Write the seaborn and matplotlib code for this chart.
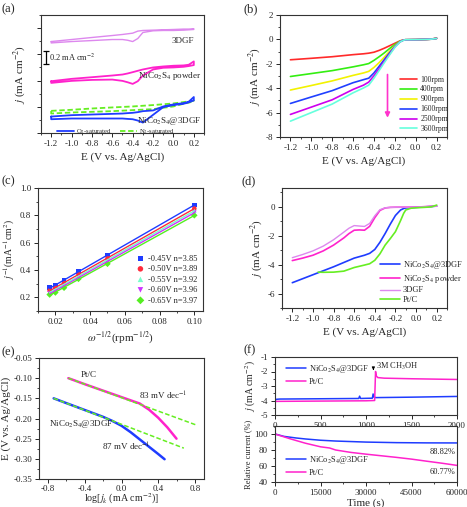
import numpy as np
import pandas as pd
import matplotlib
matplotlib.use("Agg")
import matplotlib.pyplot as plt
from matplotlib.ticker import AutoMinorLocator
import seaborn as sns

sns.set_style("ticks")
plt.rcParams["font.family"] = ["Liberation Serif", "DejaVu Serif"]
plt.rcParams["mathtext.fontset"] = "stix"
plt.rcParams["axes.unicode_minus"] = False
plt.rcParams["axes.linewidth"] = 0.8
plt.rcParams["axes.edgecolor"] = "#333333"

# ---------------- (a) CV curves (offset, arbitrary origin, mA cm-2) ----------------
E_cv = [-1.2, -1.0, -0.8, -0.6, -0.5, -0.45, -0.4, -0.35, -0.3, -0.2, -0.1, 0.0, 0.1, 0.15, 0.2]
dgf_up = [1.395, 1.426, 1.457, 1.487, 1.503, 1.513, 1.523, 1.554, 1.564, 1.569, 1.574, 1.579, 1.585, 1.585, 1.590]
dgf_dn = [1.374, 1.395, 1.410, 1.426, 1.426, 1.415, 1.395, 1.441, 1.533, 1.559, 1.564, 1.564, 1.569, 1.574, 1.579]
pow_up = [0.790, 0.826, 0.851, 0.877, 0.892, 0.908, 0.928, 0.949, 0.969, 1.000, 1.015, 1.026, 1.031, 1.041, 1.092]
pow_dn = [0.764, 0.795, 0.810, 0.815, 0.795, 0.774, 0.749, 0.790, 0.877, 0.969, 0.995, 1.000, 1.010, 1.021, 1.036]
o2_up = [0.251, 0.272, 0.282, 0.292, 0.297, 0.303, 0.308, 0.318, 0.333, 0.344, 0.405, 0.436, 0.456, 0.477, 0.549]
o2_dn = [0.210, 0.221, 0.221, 0.221, 0.221, 0.215, 0.210, 0.190, 0.159, 0.277, 0.395, 0.426, 0.446, 0.467, 0.497]
E_n2 = [-1.2, -1.0, -0.8, -0.6, -0.4, -0.2, 0.0, 0.1, 0.2]
n2_up = [0.338, 0.354, 0.374, 0.390, 0.405, 0.426, 0.451, 0.472, 0.492]
n2_dn = [0.297, 0.313, 0.323, 0.333, 0.349, 0.364, 0.405, 0.446, 0.482]
scale_bar_E = -1.25
scale_bar_j = [1.046, 1.251]

# ---------------- (b) LSV at different rotation rates ----------------
E_b = [-1.2, -1.0, -0.8, -0.6, -0.5, -0.45, -0.4, -0.35, -0.3, -0.25, -0.2, -0.15, -0.12, -0.1, 0.0, 0.1, 0.15, 0.2]
rpm_labels = ["100rpm", "400rpm", "900rpm", "1600rpm", "2500rpm", "3600rpm"]
rpm_colors = ["#ff2a2a", "#33ee11", "#f2f200", "#2040ff", "#cc00ee", "#66ffdd"]
j_100 = [-1.67, -1.55, -1.42, -1.25, -1.18, -1.13, -1.05, -0.90, -0.72, -0.52, -0.32, -0.12, -0.05, -0.03, -0.02, 0.0, 0.02, 0.12]
j_400 = [-3.04, -2.80, -2.56, -2.25, -2.08, -1.98, -1.72, -1.42, -1.10, -0.75, -0.42, -0.15, -0.06, -0.03, -0.02, 0.0, 0.02, 0.08]
j_900 = [-4.15, -3.78, -3.40, -2.95, -2.75, -2.62, -2.30, -1.90, -1.45, -0.98, -0.52, -0.17, -0.06, -0.03, -0.02, 0.0, 0.02, 0.08]
j_1600 = [-5.25, -4.72, -4.20, -3.55, -3.30, -3.18, -2.75, -2.20, -1.65, -1.10, -0.58, -0.19, -0.07, -0.03, -0.02, 0.0, 0.02, 0.08]
j_2500 = [-6.15, -5.55, -4.95, -4.10, -3.75, -3.50, -2.98, -2.40, -1.80, -1.20, -0.62, -0.20, -0.07, -0.03, -0.02, 0.0, 0.02, 0.08]
j_3600 = [-6.70, -6.00, -5.30, -4.38, -3.98, -3.75, -3.18, -2.55, -1.90, -1.27, -0.65, -0.21, -0.08, -0.03, -0.02, 0.0, 0.02, 0.08]

# ---------------- (c) K-L plots ----------------
omega = [0.0167, 0.02, 0.025, 0.0333, 0.05, 0.1]
kl_labels = ["-0.45V n=3.85", "-0.50V n=3.89", "-0.55V n=3.92", "-0.60V n=3.96", "-0.65V n=3.97"]
kl_colors = ["#1f3cff", "#ff2a3a", "#77ffcc", "#cc33ff", "#55ee22"]
kl_markers = ["s", "o", "^", "v", "D"]
kl_045 = [0.270, 0.285, 0.325, 0.390, 0.510, 0.875]
kl_050 = [0.250, 0.270, 0.305, 0.370, 0.485, 0.850]
kl_055 = [0.240, 0.260, 0.290, 0.355, 0.470, 0.835]
kl_060 = [0.230, 0.250, 0.280, 0.345, 0.460, 0.820]
kl_065 = [0.220, 0.235, 0.270, 0.335, 0.445, 0.800]

# ---------------- (d) LSV comparison ----------------
E_d = [-1.2, -1.0, -0.8, -0.6, -0.5, -0.45, -0.4, -0.35, -0.3, -0.25, -0.2, -0.15, -0.12, -0.1, 0.0, 0.1, 0.15, 0.2]
j_d_hybrid = [-5.25, -4.70, -4.15, -3.55, -3.35, -3.22, -2.95, -2.45, -1.85, -1.20, -0.60, -0.22, -0.12, -0.08, -0.04, 0.0, 0.02, 0.05]
E_d2 = [-1.2, -1.1, -1.0, -0.9, -0.8, -0.7, -0.65, -0.6, -0.55, -0.5, -0.45, -0.4, -0.35, -0.3, -0.25, -0.2, 0.0, 0.2]
j_d_powder = [-3.72, -3.55, -3.35, -3.05, -2.65, -2.15, -1.85, -1.62, -1.60, -1.62, -1.35, -0.75, -0.25, -0.08, -0.04, -0.03, -0.02, 0.05]
j_d_dgf = [-3.52, -3.30, -3.05, -2.72, -2.28, -1.75, -1.48, -1.30, -1.33, -1.36, -1.15, -0.62, -0.20, -0.07, -0.04, -0.03, -0.02, 0.05]
E_ptc = [-0.95, -0.9, -0.8, -0.7, -0.6, -0.5, -0.45, -0.4, -0.35, -0.3, -0.25, -0.2, -0.15, -0.12, -0.1, -0.05, 0.0, 0.1, 0.15, 0.2]
j_d_ptc = [-4.52, -4.53, -4.52, -4.45, -4.20, -4.03, -3.94, -3.70, -3.25, -2.65, -2.20, -1.72, -0.95, -0.45, -0.22, -0.10, -0.07, -0.03, 0.0, 0.12]

# ---------------- (e) Tafel plots ----------------
logj_pt = [-0.58, -0.4, -0.2, 0.0, 0.1, 0.2, 0.3, 0.4, 0.5, 0.6]
E_pt = [-0.100, -0.115, -0.131, -0.147, -0.155, -0.163, -0.178, -0.198, -0.222, -0.250]
fit_pt_x = [-0.58, 0.82]
fit_pt_y = [-0.100, -0.2165]
logj_hy = [-0.74, -0.6, -0.4, -0.2, -0.1, 0.0, 0.1, 0.2, 0.3, 0.4, 0.47]
E_hy = [-0.150, -0.162, -0.179, -0.196, -0.206, -0.218, -0.234, -0.252, -0.270, -0.288, -0.301]
fit_hy_x = [-0.74, 0.68]
fit_hy_y = [-0.150, -0.2735]

# ---------------- (f) methanol tolerance / durability ----------------
t_hy = [0, 3, 10, 50, 500, 920, 930, 940, 1000, 1070, 1078, 1090, 1110, 1500, 2000]
jt_hy = [-4.5, -4.0, -3.92, -3.90, -3.88, -3.86, -3.70, -3.86, -3.85, -3.84, -3.55, -3.78, -3.80, -3.77, -3.72]
t_pt = [0, 3, 10, 500, 1000, 1095, 1100, 1105, 1112, 1130, 1200, 1500, 2000]
jt_pt = [-4.3, -4.1, -4.06, -4.04, -4.02, -4.0, -3.0, -2.0, -2.3, -2.42, -2.46, -2.5, -2.55]
t_long = [0, 3000, 7000, 10000, 15000, 20000, 30000, 40000, 50000, 60000]
rel_hy = [100, 97.0, 95.0, 93.8, 92.2, 91.2, 89.9, 89.2, 88.9, 88.82]
t_long_pt = [0, 5000, 10000, 15000, 18000, 20000, 25000, 30000, 40000, 45000, 50000, 55000, 60000]
rel_pt = [100, 94.0, 88.5, 84.0, 82.5, 80.0, 77.0, 74.8, 70.8, 68.6, 66.0, 63.5, 60.77]

BLUE = "#1f3cff"
MAG = "#ff22cc"
VIOLET = "#dd88ee"
GREEN = "#66ee22"
HY = r"NiCo$_2$S$_4$@3DGF"
POW = r"NiCo$_2$S$_4$ powder"
TICK_FS = 6.5
LAB_FS = 8


def line(ax, x, y, color, lw=1.3, ls="-", label=None):
    sns.lineplot(x=x, y=y, ax=ax, color=color, lw=lw, ls=ls, sort=False,
                 estimator=None, label=label, legend=False)
    return ax.lines[-1]


def style(ax, minor=True):
    ax.tick_params(which="major", direction="out", length=3, width=0.7,
                   labelsize=TICK_FS, pad=2, top=False, right=False)
    ax.tick_params(which="minor", direction="out", length=1.6, width=0.6,
                   top=False, right=False)
    if minor:
        ax.xaxis.set_minor_locator(AutoMinorLocator(2))
        ax.yaxis.set_minor_locator(AutoMinorLocator(2))
    for s in ax.spines.values():
        s.set_visible(True)


def loop(E, up, dn):
    return list(E) + list(E[::-1]) + [E[0]], list(up) + list(dn[::-1]) + [up[0]]


W, H = 467, 507
fig = plt.figure(figsize=(W / 100, H / 100), dpi=100)


def add_ax(l, r, t, b):
    return fig.add_axes([l / W, 1 - b / H, (r - l) / W, (b - t) / H])


E_label = "E (V vs. Ag/AgCl)"
j_label = r"$j$ (mA cm$^{-2}$)"
E_ticks = ["-1.2", "-1.0", "-0.8", "-0.6", "-0.4", "-0.2", "0.0", "0.2"]

# (a)
ax = add_ax(41, 204, 15, 133)
x, y = loop(E_cv, dgf_up, dgf_dn)
line(ax, x, y, VIOLET, lw=1.0)
x, y = loop(E_cv, pow_up, pow_dn)
line(ax, x, y, MAG, lw=1.3)
x, y = loop(E_n2, n2_up, n2_dn)
h_n2 = line(ax, x, y, GREEN, lw=1.3, ls=(0, (3, 1.5)), label=r"N$_2$-saturated")
x, y = loop(E_cv, o2_up, o2_dn)
h_o2 = line(ax, x, y, BLUE, lw=1.3, label=r"O$_2$-saturated")
ax.plot([scale_bar_E, scale_bar_E], scale_bar_j, color="k", lw=0.9, marker="_", ms=4, mew=0.9)
ax.text(-1.22, 1.15, r"0.2 mA cm$^{-2}$", fontsize=6, va="center")
ax.text(0.2, 1.405, "3DGF", fontsize=6.5, ha="right", va="center")
ax.text(0.27, 0.877, POW, fontsize=6.5, ha="right", va="center")
ax.text(0.27, 0.19, HY, fontsize=6.5, ha="right", va="center")
ax.legend(handles=[h_o2, h_n2], loc="lower left", bbox_to_anchor=(0.06, -0.075), ncol=2,
          frameon=False, fontsize=4.8, handlelength=2.6, columnspacing=1.2, handletextpad=0.3)
ax.set_xlim(-1.3, 0.3)
ax.set_ylim(0, 1.8)
ax.set_xticks(np.arange(-1.2, 0.21, 0.2))
ax.set_xticklabels(E_ticks)
ax.set_yticks(np.arange(0.0, 1.81, 0.4))
style(ax)
ax.tick_params(labelleft=False)
ax.set_xlabel(E_label, fontsize=LAB_FS, labelpad=3)
ax.set_ylabel(j_label, fontsize=LAB_FS, labelpad=4)

# (b)
ax = add_ax(280, 447, 15, 137)
handles = []
for lab, col, jj in zip(rpm_labels, rpm_colors, [j_100, j_400, j_900, j_1600, j_2500, j_3600]):
    handles.append(line(ax, E_b, jj, col, lw=1.2, label=lab))
ax.annotate("", xy=(-0.27, -6.65), xytext=(-0.27, -2.65),
            arrowprops=dict(arrowstyle="-|>", color="#ff33cc", lw=1.2, mutation_scale=7))
ax.legend(handles=handles, loc="upper left", bbox_to_anchor=(0.68, 0.56), frameon=False,
          fontsize=5.5, handlelength=2.2, labelspacing=0.25, handletextpad=0.4)
ax.set_xlim(-1.3, 0.3)
ax.set_ylim(-8, 2)
ax.set_xticks(np.arange(-1.2, 0.21, 0.2))
ax.set_xticklabels(E_ticks)
ax.set_yticks([-8, -6, -4, -2, 0, 2])
style(ax)
ax.set_xlabel(E_label, fontsize=LAB_FS, labelpad=3)
ax.set_ylabel(j_label, fontsize=LAB_FS, labelpad=2)

# (c)
ax = add_ax(38, 203, 188, 311)
handles = []
for lab, col, mk, vals in zip(kl_labels, kl_colors, kl_markers, [kl_045, kl_050, kl_055, kl_060, kl_065]):
    sns.regplot(x=omega, y=vals, ax=ax, ci=None, scatter=False, truncate=True,
                color=col, line_kws=dict(lw=1.0))
    sns.scatterplot(x=omega, y=vals, ax=ax, color=col, marker=mk, s=11,
                    edgecolor="none", label=lab, legend=False)
    handles.append(ax.collections[-1])
ax.legend(handles=handles, loc="upper left", bbox_to_anchor=(0.55, 0.52), frameon=False,
          fontsize=6, handlelength=1.0, labelspacing=0.3, handletextpad=0.4, markerscale=1.2)
ax.set_xlim(0.01, 0.105)
ax.set_ylim(0.1, 1.0)
ax.set_xticks([0.02, 0.04, 0.06, 0.08, 0.10])
ax.set_xticklabels(["0.02", "0.04", "0.06", "0.08", "0.10"])
ax.set_yticks([0.2, 0.4, 0.6, 0.8, 1.0])
style(ax)
ax.set_xlabel(r"$\omega^{-1/2}$(rpm$^{-1/2}$)", fontsize=LAB_FS, labelpad=2)
ax.set_ylabel(r"$j^{-1}$(mA$^{-1}$cm$^{2}$)", fontsize=7, labelpad=2)

# (d)
ax = add_ax(282, 447, 188, 308)
h1 = line(ax, E_d, j_d_hybrid, BLUE, lw=1.2, label=HY)
h2 = line(ax, E_d2, j_d_powder, MAG, lw=1.2, label=POW)
h3 = line(ax, E_d2, j_d_dgf, VIOLET, lw=1.0, label="3DGF")
h4 = line(ax, E_ptc, j_d_ptc, GREEN, lw=1.2, label="Pt/C")
ax.legend(handles=[h1, h2, h3, h4], loc="upper left", bbox_to_anchor=(0.55, 0.47), frameon=False,
          fontsize=6, handlelength=2.4, labelspacing=0.2, handletextpad=0.3)
ax.set_xlim(-1.3, 0.3)
ax.set_ylim(-7, 1.3)
ax.set_xticks(np.arange(-1.2, 0.21, 0.2))
ax.set_xticklabels(E_ticks)
ax.set_yticks([-6, -4, -2, 0])
style(ax)
ax.set_xlabel(E_label, fontsize=LAB_FS, labelpad=3)
ax.set_ylabel(j_label, fontsize=LAB_FS, labelpad=2)

# (e)
ax = add_ax(39, 204, 358, 479)
line(ax, logj_pt, E_pt, MAG, lw=1.8)
line(ax, logj_hy, E_hy, BLUE, lw=1.8)
line(ax, fit_pt_x, fit_pt_y, GREEN, lw=1.1, ls=(0, (3, 1.5)))
line(ax, fit_hy_x, fit_hy_y, GREEN, lw=1.1, ls=(0, (3, 1.5)))
ax.text(-0.44, -0.093, "Pt/C", fontsize=6.5, ha="left", va="center")
ax.text(0.19, -0.144, r"83 mV dec$^{-1}$", fontsize=6.5, ha="left", va="center")
ax.text(-0.79, -0.214, HY, fontsize=6.5, ha="left", va="center")
ax.text(-0.21, -0.27, r"87 mV dec$^{-1}$", fontsize=6.5, ha="left", va="center")
ax.set_xlim(-0.9, 0.9)
ax.set_ylim(-0.35, -0.05)
ax.set_xticks([-0.8, -0.4, 0.0, 0.4, 0.8])
ax.set_xticklabels(["-0.8", "-0.4", "0.0", "0.4", "0.8"])
ax.set_yticks(np.arange(-0.35, -0.049, 0.05))
ax.set_yticklabels(["-0.35", "-0.30", "-0.25", "-0.20", "-0.15", "-0.10", "-0.05"])
style(ax)
ax.tick_params(axis="x", pad=1.2)
ax.set_xlabel(r"log[$j_k$ (mA cm$^{-2}$)]", fontsize=7.2, labelpad=-1)
ax.set_ylabel(E_label, fontsize=LAB_FS, labelpad=2)

# (f) top
ax = add_ax(275, 457, 357, 415)
h1 = line(ax, t_hy, jt_hy, BLUE, lw=1.1, label=HY)
h2 = line(ax, t_pt, jt_pt, MAG, lw=1.1, label="Pt/C")
ax.annotate("", xy=(1081, -2.1), xytext=(1081, -1.6),
            arrowprops=dict(arrowstyle="-|>", color="k", lw=0.7, mutation_scale=4))
ax.text(1110, -1.68, r"3M CH$_3$OH", fontsize=6, ha="left", va="center")
ax.legend(handles=[h1, h2], loc="upper left", bbox_to_anchor=(0.02, 1.02), frameon=False,
          fontsize=6, handlelength=2.4, labelspacing=0.3, handletextpad=0.3)
ax.set_xlim(0, 2000)
ax.set_ylim(-5, -1)
ax.set_xticks([0, 500, 1000, 1500, 2000])
ax.set_yticks([-5, -4, -3, -2, -1])
style(ax)
ax.set_ylabel(j_label, fontsize=7, labelpad=2)

# (f) bottom
ax = add_ax(275, 457, 426, 482)
h1 = line(ax, t_long, rel_hy, BLUE, lw=1.1, label=HY)
h2 = line(ax, t_long_pt, rel_pt, MAG, lw=1.1, label="Pt/C")
ax.text(59500, 78, "88.82%", fontsize=6, ha="right", va="center")
ax.text(59500, 52, "60.77%", fontsize=6, ha="right", va="center")
ax.legend(handles=[h1, h2], loc="lower left", bbox_to_anchor=(0.02, -0.04), frameon=False,
          fontsize=6, handlelength=2.4, labelspacing=0.3, handletextpad=0.3)
ax.set_xlim(0, 60000)
ax.set_ylim(40, 110)
ax.set_xticks([0, 15000, 30000, 45000, 60000])
ax.set_yticks([40, 60, 80, 100])
style(ax)
ax.set_xlabel("Time (s)", fontsize=LAB_FS, labelpad=1)
ax.set_ylabel("Relative current (%)", fontsize=6, labelpad=2)

for lab, (px, py) in zip(["(a)", "(b)", "(c)", "(d)", "(e)", "(f)"],
                         [(2, 9), (243, 9), (2, 181), (242, 181), (2, 352), (243, 350)]):
    fig.text(px / W, 1 - py / H, lab, fontsize=9, va="center", ha="left")

fig.savefig("out.png", dpi=100)
